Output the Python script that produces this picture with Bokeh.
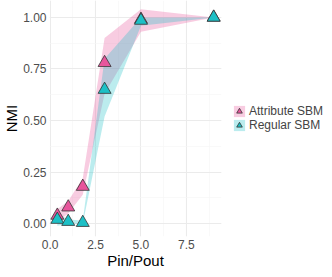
from bokeh.plotting import figure
from bokeh.models import Range1d, Legend, LegendItem, SingleIntervalTicker, CustomJSTickFormatter
from bokeh.embed import file_html
from bokeh.resources import INLINE

# Data
x_vals = [0.4, 1.0, 1.8, 3.0, 5.0, 9.0]
attr_y = [0.04, 0.08, 0.18, 0.78, 0.99, 1.0]
attr_lo = [0.01, 0.05, 0.14, 0.63, 0.93, 1.0]
attr_hi = [0.07, 0.11, 0.22, 0.90, 1.04, 1.0]
reg_y = [0.02, 0.01, 0.005, 0.65, 0.985, 1.0]
reg_lo = [-0.01, 0.0, 0.0, 0.52, 0.96, 1.0]
reg_hi = [0.05, 0.02, 0.015, 0.80, 1.0, 1.0]
series_names = ["Attribute SBM", "Regular SBM"]

PINK = "#E8559C"
CYAN = "#1DC0C6"
FONT = "Liberation Sans"

p = figure(frame_width=172, frame_height=236, output_backend="svg", toolbar_location=None,
           x_range=Range1d(-0.03, 9.43), y_range=Range1d(-0.062, 1.082),
           min_border_left=0, min_border_top=0, min_border_bottom=0, min_border_right=2)
p.outline_line_color = None
p.background_fill_color = "white"

r1 = p.varea(x=x_vals, y1=attr_lo, y2=attr_hi, fill_color=PINK, fill_alpha=0.3)
r2 = p.varea(x=x_vals, y1=reg_lo, y2=reg_hi, fill_color=CYAN, fill_alpha=0.3)
s1 = p.scatter(x=x_vals, y=attr_y, marker="triangle", size=13, fill_color=PINK,
               line_color="#333333", line_width=0.8)
s2 = p.scatter(x=x_vals, y=reg_y, marker="triangle", size=13, fill_color=CYAN,
               line_color="#333333", line_width=0.8)

p.xaxis.ticker = SingleIntervalTicker(interval=2.5, num_minor_ticks=2)
p.yaxis.ticker = SingleIntervalTicker(interval=0.25, num_minor_ticks=2)
p.xaxis.formatter = CustomJSTickFormatter(code="return tick.toFixed(1);")
p.yaxis.formatter = CustomJSTickFormatter(code="return tick.toFixed(2);")

for ax in (p.xaxis[0], p.yaxis[0]):
    ax.axis_line_color = None
    ax.major_tick_line_color = None
    ax.minor_tick_line_color = None
    ax.major_tick_out = 0
    ax.minor_tick_out = 0
    ax.major_label_text_font = FONT
    ax.major_label_text_font_size = "12px"
    ax.major_label_text_color = "#4D4D4D"
    ax.axis_label_text_font = FONT
    ax.axis_label_text_font_size = "15px"
    ax.axis_label_text_font_style = "normal"
    ax.axis_label_text_color = "black"
p.xaxis.axis_label = "Pin/Pout"
p.yaxis.axis_label = "NMI"
p.xaxis.major_label_standoff = 3
p.yaxis.major_label_standoff = 3
p.xaxis.axis_label_standoff = 0
p.yaxis.axis_label_standoff = 0

for g in (p.xgrid[0], p.ygrid[0]):
    g.grid_line_color = "#EBEBEB"
    g.grid_line_width = 1.1
    g.minor_grid_line_color = "#F5F5F5"
    g.minor_grid_line_width = 0.6

legend = Legend(items=[LegendItem(label=series_names[0], renderers=[r1, s1]),
                       LegendItem(label=series_names[1], renderers=[r2, s2])],
                location="center_left", border_line_color=None, background_fill_alpha=0,
                label_text_font=FONT, label_text_font_size="12px",
                glyph_width=14, glyph_height=14, spacing=0, label_standoff=3,
                padding=0, margin=11, label_height=14)
p.add_layout(legend, "right")

open("out.html", "w").write(file_html(p, INLINE))
